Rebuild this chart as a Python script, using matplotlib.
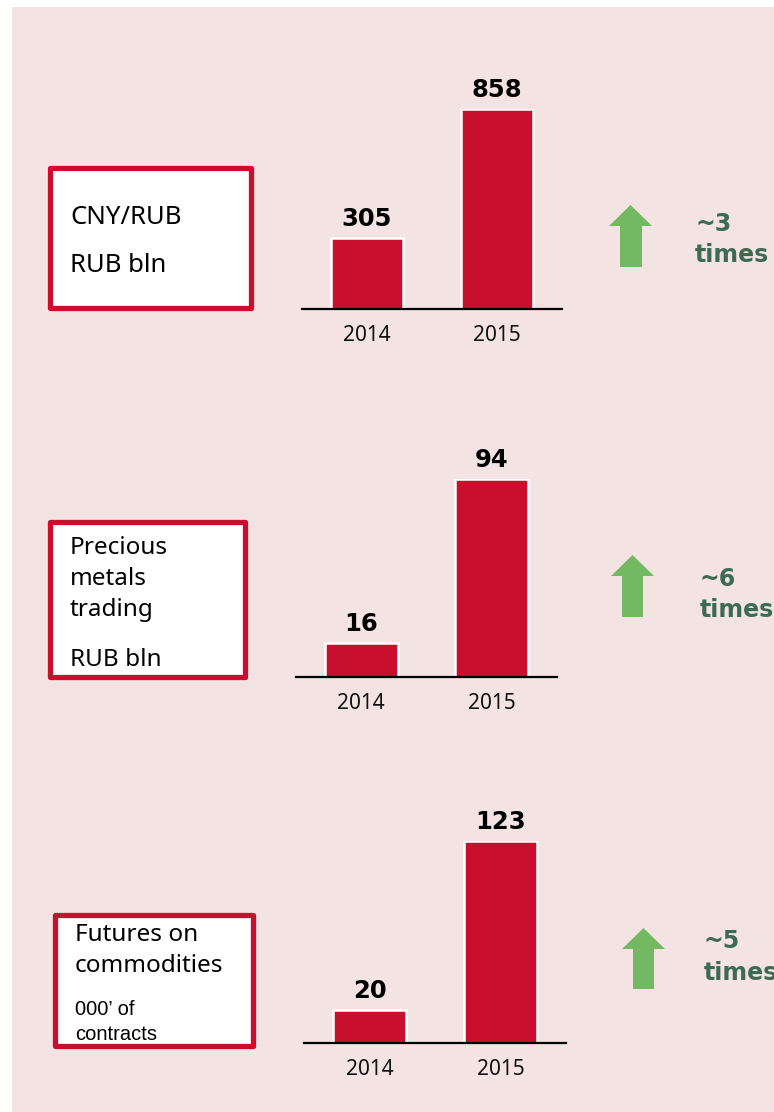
import matplotlib
matplotlib.use("Agg")
import matplotlib.pyplot as plt
from matplotlib.patches import Rectangle, Polygon

# ---- data ----
years = ["2014", "2015"]
cny_rub = [305, 858]
precious = [16, 94]
futures = [20, 123]
growth_labels = ["~3", "~6", "~5"]
box_titles = [["CNY/RUB", "", "RUB bln"],
              ["Precious", "metals", "trading", "RUB bln"],
              ["Futures on", "commodities", "000\u2019 of", "contracts"]]

W, H = 774, 1112
DPI = 100
BG = "#F4E3E3"
RED = "#C8102E"
GREEN = "#73B962"
DKGREEN = "#3D6B52"

fig = plt.figure(figsize=(W / DPI, H / DPI), dpi=DPI)
fig.patch.set_facecolor("white")

# overlay axes in pixel coordinates
ov = fig.add_axes([0, 0, 1, 1], zorder=0)
ov.set_xlim(0, W)
ov.set_ylim(H, 0)
ov.axis("off")
ov.add_patch(Rectangle((12, 7), W, H, facecolor=BG, edgecolor="none", zorder=0))

def pix_axes(left, right, baseline, height):
    return fig.add_axes([left / W, (H - baseline) / H, (right - left) / W, height / H], zorder=2)

panels = [
    dict(vals=cny_rub, ax=(302, 562, 309, 200)),
    dict(vals=precious, ax=(296, 557, 677, 198)),
    dict(vals=futures, ax=(304, 566, 1043, 202)),
]

for p in panels:
    l, r, b, h = p["ax"]
    ax = pix_axes(l, r, b, h)
    ax.patch.set_alpha(0)
    xs = range(len(years))
    ax.bar(xs, p["vals"], width=0.56, color=RED, edgecolor="white", linewidth=1.8, zorder=2)
    ax.set_xlim(-0.5, 1.5)
    ax.set_ylim(0, max(p["vals"]))
    for s in ["top", "right", "left"]:
        ax.spines[s].set_visible(False)
    ax.spines["bottom"].set_linewidth(1.6)
    ax.spines["bottom"].set_color("black")
    ax.spines["bottom"].set_zorder(3)
    ax.set_yticks([])
    ax.set_xticks(list(xs))
    ax.set_xticklabels(years, fontsize=15, family="Noto Sans", color="#111111")
    ax.tick_params(axis="x", length=0, pad=11.5)
    for x, v in zip(xs, p["vals"]):
        ax.annotate(str(v), (x, v), xytext=(0, 12), textcoords="offset pixels",
                    ha="center", va="baseline", fontsize=17.5, fontweight="bold",
                    family="DejaVu Sans", color="black", annotation_clip=False)

# label boxes
boxes = [
    dict(rect=(49.5, 167.5, 250.5, 307.5), tx=70,
         lines=[(box_titles[0][0], 224, 18.5, "Noto Sans"), (box_titles[0][2], 272, 18.5, "Noto Sans")]),
    dict(rect=(49.5, 521.5, 244.5, 676.5), tx=70,
         lines=[(box_titles[1][0], 554, 17.5, "Noto Sans"), (box_titles[1][1], 585, 17.5, "Noto Sans"),
                (box_titles[1][2], 616, 17.5, "Noto Sans"), (box_titles[1][3], 666, 17.5, "Noto Sans")]),
    dict(rect=(54.5, 914.5, 252.5, 1045.5), tx=75,
         lines=[(box_titles[2][0], 941, 17.5, "Noto Sans"), (box_titles[2][1], 972, 17.5, "Noto Sans"),
                (box_titles[2][2], 1015, 14.5, "Liberation Sans"), (box_titles[2][3], 1040, 14.5, "Liberation Sans")]),
]
for bx in boxes:
    x0, y0, x1, y1 = bx["rect"]
    ov.add_patch(Rectangle((x0, y0), x1 - x0, y1 - y0, facecolor="white", edgecolor="none", zorder=1))
    ov.add_patch(Rectangle((x0, y0), x1 - x0, y1 - y0, facecolor="none", edgecolor=RED,
                           linewidth=3.8, joinstyle="round", zorder=3))
    for txt, yb, fs, fam in bx["lines"]:
        ov.text(bx["tx"], yb, txt, ha="left", va="baseline", fontsize=fs, family=fam,
                color="black", zorder=2)

# growth arrows and labels
arrows = [
    dict(tip=205, hb=226, hx=(609, 652), sx=(620, 642), bot=267, tx=695, yb=(231, 262)),
    dict(tip=555, hb=576, hx=(611, 654), sx=(622, 643), bot=617, tx=700, yb=(586, 617)),
    dict(tip=928, hb=949, hx=(622, 665), sx=(633, 654), bot=989, tx=704, yb=(948, 980)),
]
for a, g in zip(arrows, growth_labels):
    cx = (a["hx"][0] + a["hx"][1]) / 2
    pts = [(cx, a["tip"]), (a["hx"][1], a["hb"]), (a["sx"][1], a["hb"]), (a["sx"][1], a["bot"]),
           (a["sx"][0], a["bot"]), (a["sx"][0], a["hb"]), (a["hx"][0], a["hb"])]
    ov.add_patch(Polygon(pts, closed=True, facecolor=GREEN, edgecolor="none", zorder=2))
    ov.text(a["tx"], a["yb"][0], g, ha="left", va="baseline", fontsize=17, fontweight="bold",
            family="DejaVu Sans", color=DKGREEN, zorder=2)
    ov.text(a["tx"], a["yb"][1], "times", ha="left", va="baseline", fontsize=17, fontweight="bold",
            family="DejaVu Sans", color=DKGREEN, zorder=2)

fig.savefig("out.png", dpi=DPI, facecolor=fig.get_facecolor())
